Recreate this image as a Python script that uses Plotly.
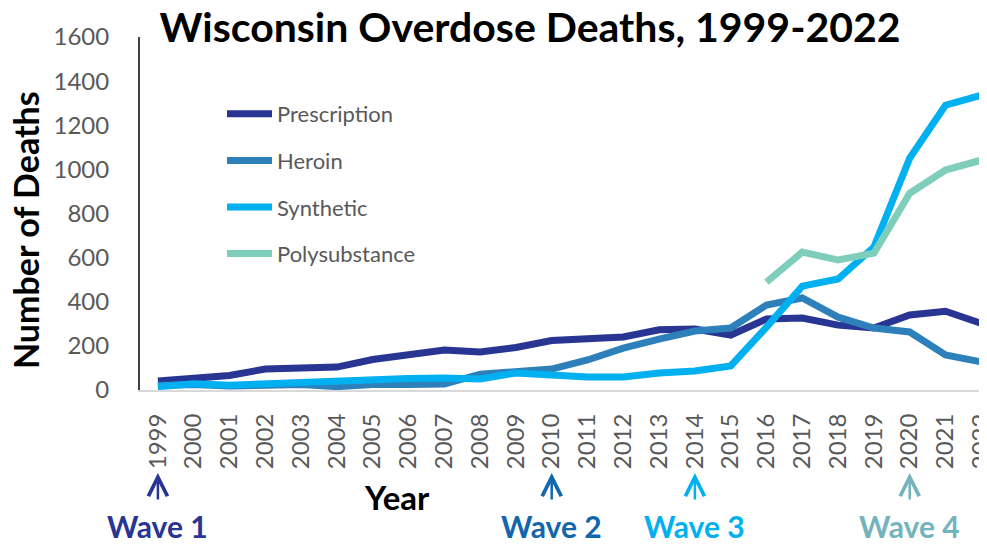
import plotly.graph_objects as go

years = list(range(1999, 2023))
prescription = [41, 50, 66, 95, 100, 104, 138, 162, 181, 172, 193, 224, 231, 240, 273, 276, 249, 322, 326, 294, 281, 340, 357, 302]
heroin = [20, 25, 18, 25, 25, 15, 25, 25, 27, 72, 82, 95, 136, 190, 231, 267, 281, 385, 417, 330, 281, 263, 159, 127]
synthetic = [15, 28, 22, 28, 40, 42, 50, 52, 54, 50, 77, 68, 59, 59, 77, 86, 109, 285, 471, 503, 648, 1051, 1291, 1336]
polysubstance = [None] * 17 + [489, 625, 589, 620, 892, 997, 1042]

series_names = ["Prescription", "Heroin", "Synthetic", "Polysubstance"]
series_values = [prescription, heroin, synthetic, polysubstance]
series_colors = ["#283593", "#2e80bb", "#00b0f0", "#7fcdbb"]

wave_years = [1999, 2010, 2014, 2020]
wave_labels = ["Wave 1", "Wave 2", "Wave 3", "Wave 4"]
wave_colors = ["#283593", "#1266ae", "#00b0f0", "#74b3bd"]

FONT = "Lato"
GRAY = "#595959"

fig = go.Figure()
for i, (name, vals, col) in enumerate(zip(series_names, series_values, series_colors)):
    fig.add_trace(go.Scatter(
        x=years, y=vals, mode="lines", name=name,
        line=dict(color=col, width=7), legendgroup=f"g{i}",
        connectgaps=False,
    ))

# page body has an 8px margin, so figure coordinates = window coordinates - 8
OFF = 8
W, H = 987 - OFF, 544 - OFF
L, T = 140 - OFF, 37 - OFF
BOT = 390 - OFF
B = H - BOT
plot_h = BOT - T
plot_w = W - L
step = 35.8


def py(win_y):
    return (BOT - (win_y - OFF)) / plot_h


def px(win_x):
    return ((win_x - OFF) - L) / plot_w


annotations = []
for yr, lab, col in zip(wave_years, wave_labels, wave_colors):
    annotations.append(dict(
        x=yr, xref="x", y=py(473), yref="paper",
        text="", showarrow=True, ax=0, ay=28, axref="pixel", ayref="pixel",
        arrowhead=5, arrowsize=1.5, arrowwidth=2.5, arrowcolor=col,
    ))
    annotations.append(dict(
        x=yr, xref="x", y=py(526), yref="paper",
        text=f"<b>{lab}</b>", showarrow=False, xanchor="center", yanchor="middle",
        font=dict(family=FONT, size=30, color=col),
    ))

annotations.append(dict(
    x=px(397), xref="paper", y=py(497), yref="paper",
    text="<b>Year</b>", showarrow=False, xanchor="center", yanchor="middle",
    font=dict(family=FONT, size=33, color="black"),
))
annotations.append(dict(
    x=px(25), xref="paper", y=py(230), yref="paper",
    text="<b>Number of Deaths</b>", showarrow=False, textangle=-90,
    xanchor="center", yanchor="middle",
    font=dict(family=FONT, size=34, color="black"),
))

fig.update_layout(
    width=W, height=H,
    margin=dict(l=L, r=0, t=T, b=B, autoexpand=False),
    paper_bgcolor="white", plot_bgcolor="white",
    title=dict(
        text="<b>Wisconsin Overdose Deaths, 1999-2022</b>",
        x=(530 - OFF) / W, xanchor="center", xref="container",
        y=1 - (28 - OFF) / H, yanchor="middle", yref="container",
        font=dict(family=FONT, size=41, color="black"),
    ),
    xaxis=dict(
        range=[1998.5, 1998.5 + plot_w / step],
        tickmode="array", tickvals=years, ticktext=[str(y) for y in years],
        tickangle=-90, tickfont=dict(family=FONT, size=24, color=GRAY),
        ticklabeloverflow="allow",
        showgrid=False, zeroline=False, showline=True, linecolor="#d9d9d9", linewidth=2,
        ticks="outside", ticklen=12, tickcolor="rgba(0,0,0,0)", automargin=False,
    ),
    yaxis=dict(
        range=[0, 1600], tickmode="array", tickvals=list(range(0, 1601, 200)),
        tickfont=dict(family=FONT, size=24, color=GRAY),
        showgrid=False, zeroline=False, showline=True, linecolor="#404040", linewidth=2,
        ticks="outside", ticklen=24, tickcolor="rgba(0,0,0,0)", automargin=False,
    ),
    legend=dict(
        x=(214 - L) / plot_w, y=(BOT - 85) / plot_h, xanchor="left", yanchor="top",
        font=dict(family=FONT, size=22, color=GRAY),
        bgcolor="rgba(0,0,0,0)", tracegroupgap=15, traceorder="grouped",
        itemwidth=45,
    ),
    showlegend=True,
    annotations=annotations,
)

fig.write_html("out.html")
